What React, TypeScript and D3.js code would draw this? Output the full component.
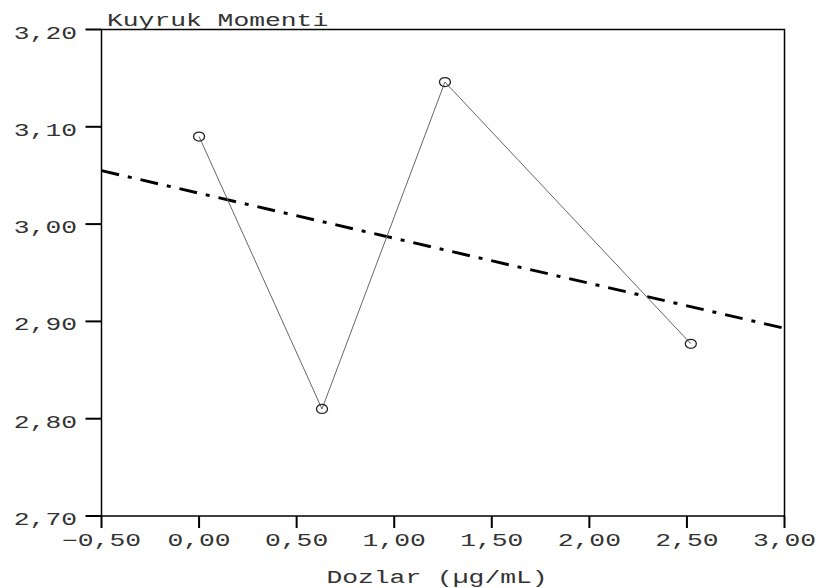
import React from "react";
import * as d3 from "d3";

const doses = [0, 0.63, 1.26, 2.52];
const tailMoment = [3.09, 2.81, 3.146, 2.877];
const xTicks = [-0.5, 0, 0.5, 1, 1.5, 2, 2.5, 3];
const yTicks = [2.7, 2.8, 2.9, 3.0, 3.1, 3.2];
const yTitle = "Kuyruk Momenti";
const xTitle = "Dozlar (µg/mL)";

const W = 818;
const H = 588;
const left = 101.5;
const right = 784.5;
const top = 29.5;
const bottom = 516;
const CH = 15.8; // stretched char advance
const FONT = "'Liberation Mono', 'Courier New', monospace";
const FS = 17.5;

const fmt = (v: number) => d3.format(".2f")(v).replace(".", ",").replace("-", "\u2212");

function T({ x, y, s, anchor = "start" }: { x: number; y: number; s: string; anchor?: string }) {
  const len = s.length * CH;
  let x0 = x;
  if (anchor === "end") x0 = x - len;
  if (anchor === "middle") x0 = x - len / 2;
  return (
    <text
      x={x0}
      y={y}
      textLength={len}
      lengthAdjust="spacingAndGlyphs"
      fontFamily={FONT}
      fontSize={FS}
      fill="#333"
    >
      {s}
    </text>
  );
}

export default function App() {
  const x = d3.scaleLinear().domain([-0.5, 3]).range([left, right]);
  const y = d3.scaleLinear().domain([2.7, 3.2]).range([bottom, top]);

  const xm = d3.mean(doses)!;
  const ym = d3.mean(tailMoment)!;
  const sxy = d3.sum(doses.map((d, i) => (d - xm) * (tailMoment[i] - ym)));
  const sxx = d3.sum(doses.map((d) => (d - xm) * (d - xm)));
  const slope = sxy / sxx;
  const icpt = ym - slope * xm;
  const fit = (v: number) => icpt + slope * v;

  const line = d3
    .line<number>()
    .x((_, i) => x(doses[i]))
    .y((d) => y(d));

  return (
    <svg width={W} height={H} style={{ position: "absolute", left: 0, top: 0, background: "#fff" }}>
      <rect x={0} y={0} width={W} height={H} fill="#fff" />
      {/* frame */}
      <rect x={left} y={top} width={right - left} height={bottom - top} fill="none" stroke="#000" strokeWidth={1.5} />
      {/* y ticks */}
      {yTicks.map((t) => (
        <g key={"y" + t}>
          <line x1={left - 16} x2={left} y1={y(t)} y2={y(t)} stroke="#000" strokeWidth={2} />
          <T x={77} y={y(t) + 9} s={fmt(t)} anchor="end" />
        </g>
      ))}
      {/* x ticks */}
      {xTicks.map((t) => (
        <g key={"x" + t}>
          <line x1={x(t)} x2={x(t)} y1={bottom} y2={bottom + 12} stroke="#000" strokeWidth={2} />
          <T x={x(t)} y={546} s={fmt(t)} anchor="middle" />
        </g>
      ))}
      <T x={107} y={26} s={yTitle} />
      <T x={437} y={583} s={xTitle} anchor="middle" />
      {/* regression */}
      <line
        x1={x(-0.5)}
        y1={y(fit(-0.5))}
        x2={x(3)}
        y2={y(fit(3))}
        stroke="#000"
        strokeWidth={3}
        strokeDasharray="18 9 4 9"
      />
      {/* data line */}
      <path d={line(tailMoment) || ""} fill="none" stroke="#666" strokeWidth={1} />
      {tailMoment.map((v, i) => (
        <ellipse key={i} cx={x(doses[i])} cy={y(v)} rx={5.5} ry={4.5} fill="none" stroke="#222" strokeWidth={1.3} />
      ))}
    </svg>
  );
}
